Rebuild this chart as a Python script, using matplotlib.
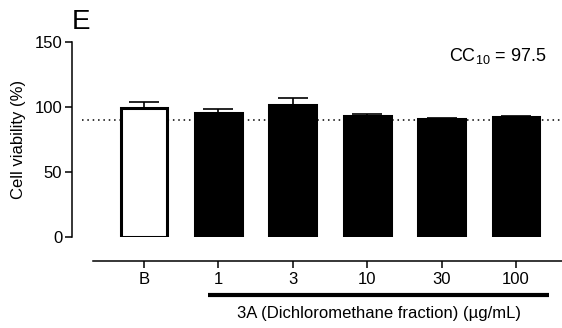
import matplotlib
matplotlib.use("Agg")
import matplotlib.pyplot as plt
import numpy as np

# values
labels = ["B", "1", "3", "10", "30", "100"]
viability = [99.2, 95.4, 101.5, 93.0, 90.4, 92.3]
sem = [4.5, 3.2, 5.5, 2.0, 1.0, 0.8]
cc10_line = 90
cc10_text = "CC$_{10}$ = 97.5"

plt.rcParams["font.family"] = ["Liberation Sans", "DejaVu Sans"]
plt.rcParams["mathtext.fontset"] = "custom"
plt.rcParams["mathtext.rm"] = "Liberation Sans"

fig = plt.figure(figsize=(5.62, 3.28), dpi=100)
ax = fig.add_axes([72 / 562, (328 - 237) / 328, 1 - 72 / 562, (237 - 42) / 328])

x = np.arange(len(labels))
w = 0.63
colors = ["white"] + ["black"] * (len(labels) - 1)
ax.errorbar(x, viability, yerr=[np.zeros(len(sem)), sem], fmt="none",
            ecolor="black", elinewidth=1.2, capsize=11, capthick=1.2, zorder=2)
ax.bar(x, viability, width=w, color=colors, edgecolor="black", linewidth=2.2, zorder=3)

ax.set_xlim(-0.968, 5.618)
ax.set_ylim(0, 150)
ax.plot([-0.83, 5.618], [cc10_line, cc10_line], ls=(0, (1, 2.5)), color="black",
        lw=1.1, zorder=1, clip_on=False)

for s in ("top", "right"):
    ax.spines[s].set_visible(False)
ax.spines["left"].set_linewidth(1.1)
ax.spines["bottom"].set_linewidth(1.1)
ax.spines["bottom"].set_position(("outward", 17))
ax.spines["bottom"].set_bounds(-0.686, 5.618)

ax.set_yticks([0, 50, 100, 150])
ax.set_xticks(x)
ax.set_xticklabels(labels)
ax.tick_params(axis="both", direction="out", length=5, width=1.1, labelsize=12,
               colors="black")
ax.tick_params(axis="x", pad=3)
ax.tick_params(axis="y", pad=2)
ax.set_ylabel("Cell viability (%)", fontsize=12, labelpad=6)

# bar under the concentrations + group label
ax.plot([0.86, 5.44], [-44.6, -44.6], color="black", lw=3, clip_on=False,
        solid_capstyle="butt")
ax.text(3.16, -58.5, "3A (Dichloromethane fraction) (\u00b5g/mL)", ha="center",
        va="center", fontsize=12)

ax.text(0.968, 0.93, cc10_text, transform=ax.transAxes, ha="right", va="center",
        fontsize=13)
fig.text(72 / 562, 1 - 22 / 328, "E", ha="left", va="center", fontsize=20)

fig.savefig("out.png", dpi=100)
